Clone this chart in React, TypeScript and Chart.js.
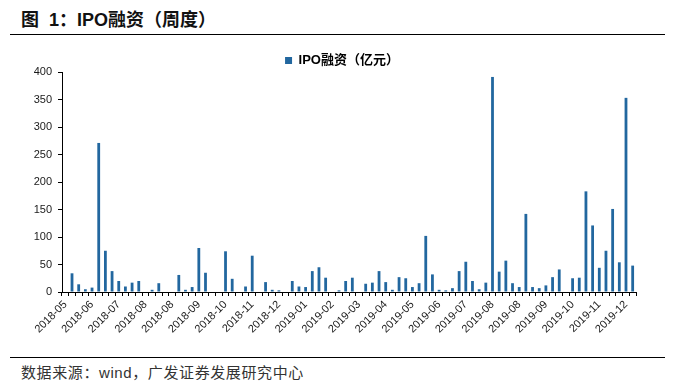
import React, { useEffect, useRef } from 'react';
import { Chart, registerables } from 'chart.js';

Chart.register(...registerables);

// Weekly periods (Fridays)
const weeks: string[] = [
  '2018-05-11', '2018-05-18', '2018-05-25', '2018-06-01', '2018-06-08', '2018-06-15', '2018-06-22', '2018-06-29',
  '2018-07-06', '2018-07-13', '2018-07-20', '2018-07-27', '2018-08-03', '2018-08-10', '2018-08-17', '2018-08-24',
  '2018-08-31', '2018-09-07', '2018-09-14', '2018-09-21', '2018-09-28', '2018-10-05', '2018-10-12', '2018-10-19',
  '2018-10-26', '2018-11-02', '2018-11-09', '2018-11-16', '2018-11-23', '2018-11-30', '2018-12-07', '2018-12-14',
  '2018-12-21', '2018-12-28', '2019-01-04', '2019-01-11', '2019-01-18', '2019-01-25', '2019-02-01', '2019-02-08',
  '2019-02-15', '2019-02-22', '2019-03-01', '2019-03-08', '2019-03-15', '2019-03-22', '2019-03-29', '2019-04-05',
  '2019-04-12', '2019-04-19', '2019-04-26', '2019-05-03', '2019-05-10', '2019-05-17', '2019-05-24', '2019-05-31',
  '2019-06-07', '2019-06-14', '2019-06-21', '2019-06-28', '2019-07-05', '2019-07-12', '2019-07-19', '2019-07-26',
  '2019-08-02', '2019-08-09', '2019-08-16', '2019-08-23', '2019-08-30', '2019-09-06', '2019-09-13', '2019-09-20',
  '2019-09-27', '2019-10-04', '2019-10-11', '2019-10-18', '2019-10-25', '2019-11-01', '2019-11-08', '2019-11-15',
  '2019-11-22', '2019-11-29', '2019-12-06', '2019-12-13', '2019-12-20', '2019-12-27',
];

// IPO funding per week (亿元)
const ipoFunding: number[] = [
  0, 34, 14, 5, 8, 271, 75, 38,
  20, 10, 17, 20, 0, 4, 16, 0,
  0, 31, 4, 9, 80, 35, 0, 0,
  74, 24, 0, 10, 66, 0, 18, 4,
  3, 0, 20, 10, 9, 38, 45, 26,
  0, 3, 20, 26, 0, 15, 17, 38,
  18, 4, 27, 25, 9, 16, 102, 32,
  4, 3, 7, 38, 55, 20, 5, 17,
  391, 37, 57, 16, 9, 142, 9, 7,
  12, 27, 41, 0, 25, 26, 183, 121,
  44, 75, 151, 54, 353, 48,
];

const seriesName = 'IPO融资（亿元）';
const titleText = '图\u00a0\u00a01：IPO融资（周度）';
const sourceText = '数据来源：wind，广发证券发展研究中心';
const labelEvery = 4;

const FONT = "'Liberation Sans', Arial, 'Noto Sans CJK SC', sans-serif";

// Nudges the legend to sit where the reference places it
const legendNudge = {
  id: 'legendNudge',
  afterLayout(chart: any) {
    const l = chart.legend;
    if (!l) return;
    l.top += 5;
    l.bottom += 5;
    l.left += 24;
    l.right += 24;
  },
};

export default function App() {
  const ref = useRef<HTMLCanvasElement>(null);

  useEffect(() => {
    if (!ref.current) return;
    const chart = new Chart(ref.current, {
      type: 'bar',
      data: {
        labels: weeks,
        datasets: [
          {
            label: seriesName,
            data: ipoFunding,
            backgroundColor: '#22679f',
            borderWidth: 0,
            barPercentage: 0.42,
            categoryPercentage: 1,
          },
        ],
      },
      plugins: [legendNudge],
      options: {
        responsive: false,
        animation: false,
        devicePixelRatio: 1,
        layout: { padding: { left: 0, right: 39, top: 0, bottom: 0 } },
        plugins: {
          legend: {
            display: true,
            position: 'top',
            labels: {
              boxWidth: 7,
              boxHeight: 7,
              padding: 11,
              color: '#000',
              font: { family: FONT, size: 13, weight: 'bold' },
            },
          },
          tooltip: { enabled: false },
        },
        scales: {
          x: {
            grid: {
              display: true,
              drawOnChartArea: false,
              tickLength: 4,
              color: '#000',
              offset: true,
            },
            border: { color: '#000', width: 1 },
            ticks: {
              autoSkip: false,
              minRotation: 45,
              maxRotation: 45,
              padding: 2,
              color: '#1a1a1a',
              font: { family: FONT, size: 11 },
              callback: (_v: any, i: number) => (i % labelEvery === 0 ? weeks[i].slice(0, 7) : ''),
            },
            afterFit: (s: any) => {
              s.height = 50;
            },
          },
          y: {
            min: 0,
            max: 400,
            ticks: {
              stepSize: 50,
              padding: 6,
              color: '#1a1a1a',
              font: { family: FONT, size: 11 },
            },
            grid: {
              display: true,
              drawOnChartArea: false,
              tickLength: 4,
              color: '#000',
            },
            border: { color: '#000', width: 1 },
            afterFit: (s: any) => {
              s.width = 62;
            },
          },
        },
      },
    });
    return () => chart.destroy();
  }, []);

  return (
    <div
      style={{
        position: 'absolute',
        left: 0,
        top: 0,
        width: 675,
        height: 390,
        background: '#fff',
        fontFamily: FONT,
        overflow: 'hidden',
      }}
    >
      <div
        style={{
          position: 'absolute',
          left: 21,
          top: 9,
          fontSize: 18,
          fontWeight: 'bold',
          color: '#111',
          whiteSpace: 'nowrap',
          lineHeight: '22px',
        }}
      >
        {titleText}
      </div>
      <div style={{ position: 'absolute', left: 10, top: 34, width: 655, height: 1, background: '#000' }} />
      <canvas
        ref={ref}
        width={675}
        height={304}
        style={{ position: 'absolute', left: 0, top: 38, width: 675, height: 304 }}
      />
      <div style={{ position: 'absolute', left: 10, top: 357, width: 655, height: 1, background: '#000' }} />
      <div
        style={{
          position: 'absolute',
          left: 21,
          top: 363,
          fontSize: 15,
          letterSpacing: '0.6px',
          color: '#333',
          whiteSpace: 'nowrap',
          lineHeight: '20px',
        }}
      >
        {sourceText}
      </div>
    </div>
  );
}
